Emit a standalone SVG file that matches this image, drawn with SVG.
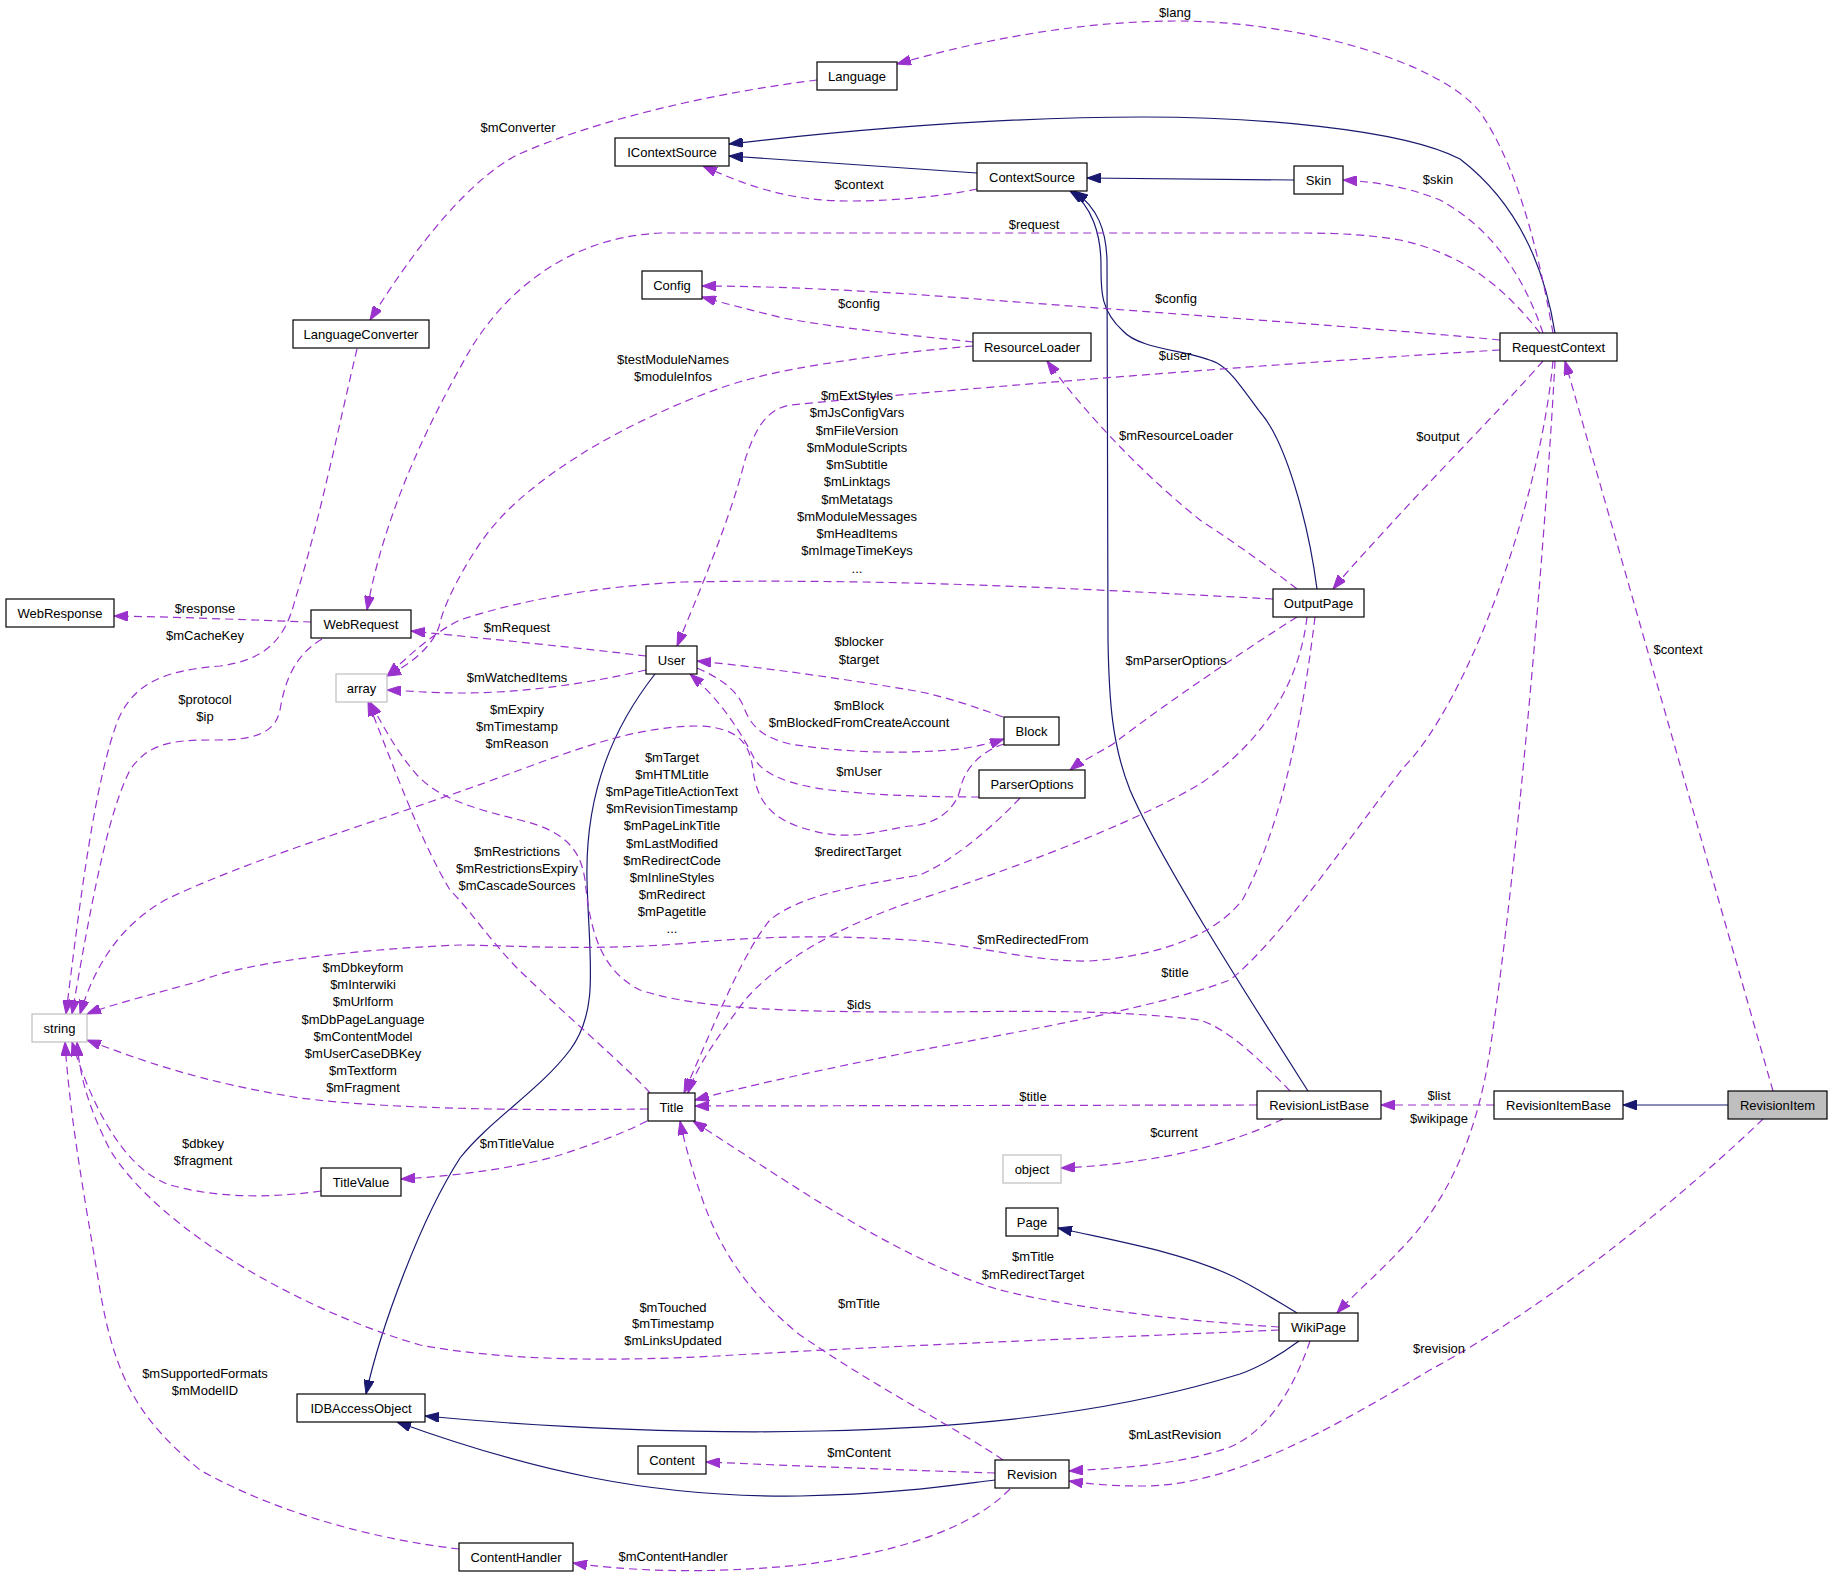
<svg xmlns="http://www.w3.org/2000/svg" width="1832" height="1577" viewBox="0 0 1832 1577">
<style>
.n rect{fill:#fff;stroke:#000;stroke-width:1.2}
.n.g rect{stroke:#bfbfbf}
.n.f rect{fill:#bfbfbf}
text{font-family:"Liberation Sans",Arial,Helvetica,sans-serif;font-size:13px;fill:#000}
.n text{text-anchor:middle}
.lb text{text-anchor:middle}
.inh{fill:none;stroke:#191970;stroke-width:1.2;marker-end:url(#an)}
.use{fill:none;stroke:#9a32cd;stroke-width:1.2;stroke-dasharray:8,5;marker-end:url(#ap)}
</style>
<defs>
<marker id="an" viewBox="0 0 14 10" refX="14" refY="5" markerWidth="14" markerHeight="10" markerUnits="userSpaceOnUse" orient="auto"><path d="M0,0 L14,5 L0,10 z" fill="#191970" stroke="#191970" stroke-dasharray="none"/></marker>
<marker id="ap" viewBox="0 0 14 10" refX="14" refY="5" markerWidth="14" markerHeight="10" markerUnits="userSpaceOnUse" orient="auto"><path d="M0,0 L14,5 L0,10 z" fill="#9a32cd" stroke="#9a32cd" stroke-dasharray="none"/></marker>
</defs>
<rect x="0" y="0" width="1832" height="1577" fill="#fff"/>
<g id="connectors">
<path class="inh" d="M1555,333 C1545,270 1520,205 1460,159 C1400,128 1250,117 1143,117 C1000,117 850,130 729,144"/>
<path class="inh" d="M977,173 L729,156"/>
<path class="inh" d="M1294,180 L1087,178"/>
<path class="inh" d="M1317,589 C1308,520 1285,440 1260,412 C1240,385 1230,370 1217,363 C1190,350 1140,350 1123,331 C1100,310 1101,290 1101,265 C1101,235 1092,205 1070,191"/>
<path class="inh" d="M1308,1091 C1250,1000 1160,860 1130,790 C1112,745 1109,700 1108,640 L1107,260 C1106,230 1098,208 1074,191"/>
<path class="inh" d="M655,674 C615,725 585,790 587,880 C589,960 600,1010 570,1050 C540,1090 490,1120 460,1158 C420,1220 380,1330 366,1394"/>
<path class="inh" d="M1299,1341 C1280,1355 1260,1367 1240,1374 C1130,1408 1000,1427 820,1431 C700,1434 550,1428 425,1416"/>
<path class="inh" d="M995,1480 C960,1484 900,1494 800,1496 C650,1498 530,1470 397,1422"/>
<path class="inh" d="M1297,1313 C1275,1300 1252,1285 1230,1275 C1180,1252 1120,1242 1058,1228"/>
<path class="inh" d="M1728,1105 L1623,1105"/>

<path class="use" d="M817,80 C720,92 600,118 517,155 C470,180 420,240 370,320"/>
<path class="use" d="M1553,333 C1540,260 1520,170 1480,112 C1440,62 1300,21 1177,21 C1080,21 980,40 897,64"/>
<path class="use" d="M977,189 C950,195 900,201 850,201 C800,201 760,192 703,166"/>
<path class="use" d="M1543,333 C1525,280 1495,230 1440,200 C1410,188 1380,182 1343,180"/>
<path class="use" d="M1540,333 C1510,295 1470,255 1400,240 C1370,235 1340,233 1300,233 L660,233 C560,238 500,300 470,350 C430,420 385,510 367,610"/>
<path class="use" d="M1500,340 C1400,330 1150,312 910,294 C830,289 760,286 702,286"/>
<path class="use" d="M973,342 C920,336 850,330 783,318 C755,311 730,305 702,297"/>
<path class="use" d="M1500,350 C1300,362 1000,385 790,405 C765,410 755,430 745,460 C730,520 700,590 677,646"/>
<path class="use" d="M1543,361 C1500,410 1440,470 1390,525 C1370,547 1350,568 1333,589"/>
<path class="use" d="M1555,361 C1548,500 1520,850 1490,1050 C1478,1130 1450,1200 1400,1250 C1380,1272 1355,1293 1337,1313"/>
<path class="use" d="M1553,361 C1540,500 1470,700 1403,768 C1340,850 1280,940 1230,980 C1150,1010 1000,1035 910,1052 C830,1068 750,1085 695,1100"/>
<path class="use" d="M1773,1091 L1565,361"/>
<path class="use" d="M1494,1105 L1381,1105"/>
<path class="use" d="M1763,1119 C1700,1180 1560,1300 1430,1370 C1330,1430 1230,1486 1143,1486 C1110,1486 1090,1484 1069,1481"/>
<path class="use" d="M1310,1341 C1295,1385 1270,1430 1230,1447 C1180,1465 1120,1468 1069,1471"/>
<path class="use" d="M1279,1327 C1200,1322 1080,1310 1000,1290 C900,1260 800,1190 693,1121"/>
<path class="use" d="M1279,1330 C1100,1338 900,1345 717,1356 C600,1362 500,1360 420,1345 C300,1310 160,1230 110,1150 C90,1110 80,1080 77,1042"/>
<path class="use" d="M321,1191 C280,1197 220,1200 167,1184 C120,1165 90,1100 72,1042"/>
<path class="use" d="M459,1549 C380,1540 280,1515 200,1470 C140,1420 115,1380 100,1290 C85,1200 70,1120 65,1042"/>
<path class="use" d="M1010,1489 C980,1520 920,1550 800,1565 C700,1575 620,1570 573,1563"/>
<path class="use" d="M995,1473 C900,1470 800,1466 706,1462"/>
<path class="use" d="M1003,1460 C960,1430 880,1390 800,1335 C750,1295 720,1250 703,1201 C692,1170 685,1145 680,1121"/>
<path class="use" d="M648,1109 C500,1111 380,1108 300,1098 C200,1082 140,1060 87,1040"/>
<path class="use" d="M1297,589 C1260,560 1230,540 1200,520 C1150,480 1090,420 1047,361"/>
<path class="use" d="M973,346 C900,352 800,365 750,379 C690,395 620,430 583,453 C540,480 510,505 490,530 C470,555 445,600 440,623 C435,645 410,665 387,676"/>
<path class="use" d="M1273,599 C1100,590 900,578 683,582 C600,586 520,600 460,620 C430,635 410,655 387,676"/>
<path class="use" d="M311,622 C250,620 180,617 114,616"/>
<path class="use" d="M322,639 C295,655 285,680 280,710 C275,735 250,740 217,740 C180,740 150,740 130,770 C110,810 95,880 72,1014"/>
<path class="use" d="M357,349 C340,420 320,520 295,600 C285,640 265,660 220,666 C170,670 135,680 118,720 C95,780 80,900 66,1014"/>
<path class="use" d="M646,656 C580,648 500,640 411,631"/>
<path class="use" d="M646,670 C580,685 520,693 460,693 C430,693 410,691 387,690"/>
<path class="use" d="M1297,617 C1260,640 1170,700 1113,744 C1095,755 1080,762 1070,770"/>
<path class="use" d="M1020,798 C990,830 950,862 920,875 C860,885 800,895 770,920 C745,950 720,1010 684,1093"/>
<path class="use" d="M1307,617 C1300,680 1265,740 1203,782 C1150,815 1040,860 920,899 C840,925 780,960 745,1000 C715,1040 695,1070 688,1093"/>
<path class="use" d="M1315,617 C1305,700 1285,820 1243,899 C1220,930 1170,955 1090,961 C1030,962 980,945 910,940 C840,936 780,935 700,942 C600,952 500,945 460,945 C380,948 250,960 200,981 C150,995 110,1005 87,1014"/>
<path class="use" d="M1257,1105 L695,1106"/>
<path class="use" d="M1283,1119 C1250,1135 1200,1152 1143,1160 C1110,1165 1085,1167 1061,1168"/>
<path class="use" d="M1290,1091 C1260,1060 1230,1030 1200,1020 C1100,1008 1000,1012 920,1012 C800,1012 700,1010 640,990 C600,970 590,930 585,880 C580,845 560,830 520,820 C480,810 440,800 417,775 C395,750 380,720 370,702"/>
<path class="use" d="M647,1121 C620,1135 590,1145 560,1155 C520,1167 460,1176 401,1179"/>
<path class="use" d="M650,1093 C630,1070 560,1010 517,968 C490,940 470,910 450,890 C420,840 395,770 368,702"/>
<path class="use" d="M1004,744 C985,750 965,765 960,790 C955,810 935,825 910,826 C880,830 850,842 810,830 C770,820 757,800 753,770 C750,745 740,728 700,726 C620,726 550,761 450,795 C350,830 250,860 167,899 C120,925 95,965 80,1014"/>
<path class="use" d="M979,797 C940,797 880,796 830,790 C790,785 765,775 755,760 C740,730 720,700 690,674"/>
<path class="use" d="M697,668 C720,678 738,690 745,710 C752,728 765,738 790,744 C840,752 900,755 960,749 C980,746 995,742 1004,739"/>
<path class="use" d="M1003,717 C970,705 940,695 910,690 C850,680 770,668 697,661"/>
</g>
<g id="labels" class="lb">
<text x="518" y="132">$mConverter</text>
<text x="1175" y="17">$lang</text>
<text x="859" y="189">$context</text>
<text x="1438" y="184">$skin</text>
<text x="1034" y="229">$request</text>
<text x="1176" y="303">$config</text>
<text x="859" y="308">$config</text>
<text x="673" y="364">$testModuleNames</text>
<text x="673" y="381">$moduleInfos</text>
<text x="1175" y="360">$user</text>
<text x="1176" y="440">$mResourceLoader</text>
<text x="1438" y="441">$output</text>
<text x="857" y="400">$mExtStyles</text>
<text x="857" y="417">$mJsConfigVars</text>
<text x="857" y="435">$mFileVersion</text>
<text x="857" y="452">$mModuleScripts</text>
<text x="857" y="469">$mSubtitle</text>
<text x="857" y="486">$mLinktags</text>
<text x="857" y="504">$mMetatags</text>
<text x="857" y="521">$mModuleMessages</text>
<text x="857" y="538">$mHeadItems</text>
<text x="857" y="555">$mImageTimeKeys</text>
<text x="857" y="573">...</text>
<text x="205" y="613">$response</text>
<text x="205" y="640">$mCacheKey</text>
<text x="205" y="704">$protocol</text>
<text x="205" y="721">$ip</text>
<text x="517" y="632">$mRequest</text>
<text x="517" y="682">$mWatchedItems</text>
<text x="517" y="714">$mExpiry</text>
<text x="517" y="731">$mTimestamp</text>
<text x="517" y="748">$mReason</text>
<text x="859" y="646">$blocker</text>
<text x="859" y="664">$target</text>
<text x="859" y="710">$mBlock</text>
<text x="859" y="727">$mBlockedFromCreateAccount</text>
<text x="859" y="776">$mUser</text>
<text x="858" y="856">$redirectTarget</text>
<text x="1176" y="665">$mParserOptions</text>
<text x="672" y="762">$mTarget</text>
<text x="672" y="779">$mHTMLtitle</text>
<text x="672" y="796">$mPageTitleActionText</text>
<text x="672" y="813">$mRevisionTimestamp</text>
<text x="672" y="830">$mPageLinkTitle</text>
<text x="672" y="848">$mLastModified</text>
<text x="672" y="865">$mRedirectCode</text>
<text x="672" y="882">$mInlineStyles</text>
<text x="672" y="899">$mRedirect</text>
<text x="672" y="916">$mPagetitle</text>
<text x="672" y="933">...</text>
<text x="517" y="856">$mRestrictions</text>
<text x="517" y="873">$mRestrictionsExpiry</text>
<text x="517" y="890">$mCascadeSources</text>
<text x="1033" y="944">$mRedirectedFrom</text>
<text x="1175" y="977">$title</text>
<text x="1678" y="654">$context</text>
<text x="859" y="1009">$ids</text>
<text x="363" y="972">$mDbkeyform</text>
<text x="363" y="989">$mInterwiki</text>
<text x="363" y="1006">$mUrlform</text>
<text x="363" y="1024">$mDbPageLanguage</text>
<text x="363" y="1041">$mContentModel</text>
<text x="363" y="1058">$mUserCaseDBKey</text>
<text x="363" y="1075">$mTextform</text>
<text x="363" y="1092">$mFragment</text>
<text x="1033" y="1101">$title</text>
<text x="1439" y="1100">$list</text>
<text x="1439" y="1123">$wikipage</text>
<text x="1174" y="1137">$current</text>
<text x="203" y="1148">$dbkey</text>
<text x="203" y="1165">$fragment</text>
<text x="517" y="1148">$mTitleValue</text>
<text x="1033" y="1261">$mTitle</text>
<text x="1033" y="1279">$mRedirectTarget</text>
<text x="673" y="1312">$mTouched</text>
<text x="673" y="1328">$mTimestamp</text>
<text x="673" y="1345">$mLinksUpdated</text>
<text x="859" y="1308">$mTitle</text>
<text x="1439" y="1353">$revision</text>
<text x="205" y="1378">$mSupportedFormats</text>
<text x="205" y="1395">$mModelID</text>
<text x="1175" y="1439">$mLastRevision</text>
<text x="859" y="1457">$mContent</text>
<text x="673" y="1561">$mContentHandler</text>
</g>
<g id="Language" class="n"><rect x="817" y="62" width="80" height="28"/><text x="857" y="81">Language</text></g>
<g id="LanguageConverter" class="n"><rect x="293" y="320" width="136" height="28"/><text x="361" y="339">LanguageConverter</text></g>
<g id="IContextSource" class="n"><rect x="615" y="138" width="114" height="28"/><text x="672" y="157">IContextSource</text></g>
<g id="ContextSource" class="n"><rect x="977" y="163" width="110" height="28"/><text x="1032" y="182">ContextSource</text></g>
<g id="Skin" class="n"><rect x="1294" y="166" width="49" height="28"/><text x="1318.5" y="185">Skin</text></g>
<g id="Config" class="n"><rect x="642" y="271" width="60" height="28"/><text x="672" y="290">Config</text></g>
<g id="ResourceLoader" class="n"><rect x="973" y="333" width="118" height="28"/><text x="1032" y="352">ResourceLoader</text></g>
<g id="RequestContext" class="n"><rect x="1500" y="333" width="117" height="28"/><text x="1558.5" y="352">RequestContext</text></g>
<g id="WebResponse" class="n"><rect x="6" y="599" width="108" height="28"/><text x="60" y="618">WebResponse</text></g>
<g id="WebRequest" class="n"><rect x="311" y="610" width="100" height="28"/><text x="361" y="629">WebRequest</text></g>
<g id="array" class="n g"><rect x="336" y="674" width="51" height="28"/><text x="361.5" y="693">array</text></g>
<g id="User" class="n"><rect x="646" y="646" width="51" height="28"/><text x="671.5" y="665">User</text></g>
<g id="OutputPage" class="n"><rect x="1273" y="589" width="91" height="28"/><text x="1318.5" y="608">OutputPage</text></g>
<g id="Block" class="n"><rect x="1004" y="717" width="55" height="28"/><text x="1031.5" y="736">Block</text></g>
<g id="ParserOptions" class="n"><rect x="979" y="770" width="106" height="28"/><text x="1032" y="789">ParserOptions</text></g>
<g id="string" class="n g"><rect x="32" y="1014" width="55" height="28"/><text x="59.5" y="1033">string</text></g>
<g id="Title" class="n"><rect x="648" y="1093" width="47" height="28"/><text x="671.5" y="1112">Title</text></g>
<g id="TitleValue" class="n"><rect x="321" y="1168" width="80" height="28"/><text x="361" y="1187">TitleValue</text></g>
<g id="RevisionListBase" class="n"><rect x="1257" y="1091" width="124" height="28"/><text x="1319" y="1110">RevisionListBase</text></g>
<g id="RevisionItemBase" class="n"><rect x="1494" y="1091" width="129" height="28"/><text x="1558.5" y="1110">RevisionItemBase</text></g>
<g id="RevisionItem" class="n f"><rect x="1728" y="1091" width="99" height="28"/><text x="1777.5" y="1110">RevisionItem</text></g>
<g id="object" class="n g"><rect x="1003" y="1155" width="58" height="28"/><text x="1032" y="1174">object</text></g>
<g id="Page" class="n"><rect x="1006" y="1208" width="52" height="28"/><text x="1032" y="1227">Page</text></g>
<g id="WikiPage" class="n"><rect x="1279" y="1313" width="79" height="28"/><text x="1318.5" y="1332">WikiPage</text></g>
<g id="IDBAccessObject" class="n"><rect x="297" y="1394" width="128" height="28"/><text x="361" y="1413">IDBAccessObject</text></g>
<g id="Content" class="n"><rect x="638" y="1446" width="68" height="28"/><text x="672" y="1465">Content</text></g>
<g id="Revision" class="n"><rect x="995" y="1460" width="74" height="28"/><text x="1032" y="1479">Revision</text></g>
<g id="ContentHandler" class="n"><rect x="459" y="1543" width="114" height="28"/><text x="516" y="1562">ContentHandler</text></g>
</svg>
